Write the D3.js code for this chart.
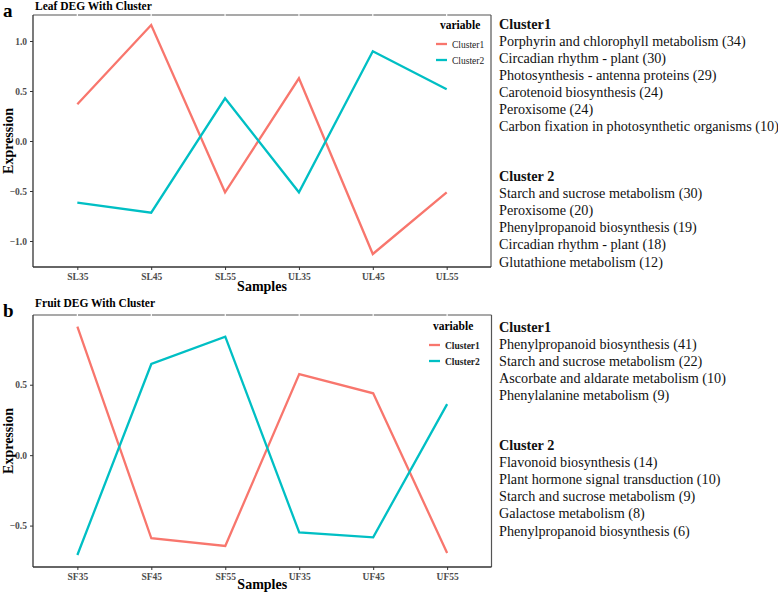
<!DOCTYPE html>
<html><head><meta charset="utf-8">
<script src="https://cdn.jsdelivr.net/npm/d3@7"></script>
<style>body{margin:0;background:#fff}svg{display:block}</style>
</head><body>
<svg id="c" width="778" height="593"></svg>
<script>
// ---- Data ----
const leafSamples = ["SL35","SL45","SL55","UL35","UL45","UL55"];
const leafCluster1 = [0.367, 1.16, -0.513, 0.627, -1.13, -0.513];
const leafCluster2 = [-0.617, -0.717, 0.427, -0.513, 0.897, 0.517];
const leafTicks = [-1.0, -0.5, 0.0, 0.5, 1.0];
const fruitSamples = ["SF35","SF45","SF55","UF35","UF45","UF55"];
const fruitCluster1 = [0.912, -0.59, -0.645, 0.576, 0.439, -0.694];
const fruitCluster2 = [-0.709, 0.647, 0.841, -0.549, -0.583, 0.362];
const fruitTicks = [-0.5, 0.0, 0.5];
const seriesNames = ["Cluster1","Cluster2"];
const leafClusterHeads = ["Cluster1","Cluster 2"];
const leafC1Paths = ["Porphyrin and chlorophyll metabolism (34)","Circadian rhythm - plant (30)","Photosynthesis - antenna proteins (29)","Carotenoid biosynthesis (24)","Peroxisome (24)","Carbon fixation in photosynthetic organisms (10)"];
const leafC2Paths = ["Starch and sucrose metabolism (30)","Peroxisome (20)","Phenylpropanoid biosynthesis (19)","Circadian rhythm - plant (18)","Glutathione metabolism (12)"];
const fruitC1Paths = ["Phenylpropanoid biosynthesis (41)","Starch and sucrose metabolism (22)","Ascorbate and aldarate metabolism (10)","Phenylalanine metabolism (9)"];
const fruitC2Paths = ["Flavonoid biosynthesis (14)","Plant hormone signal transduction (10)","Starch and sucrose metabolism (9)","Galactose metabolism (8)","Phenylpropanoid biosynthesis (6)"];

const colors = ["#F8766D","#00BFC4"];
const serif = "Liberation Serif, Times New Roman, serif";
const svg = d3.select("#c");

function panel(cfg){
  const g = svg.append("g");
  const x = d3.scalePoint().domain(cfg.samples).range([cfg.left, cfg.right]).padding(0.6);
  const y = d3.scaleLinear().domain(cfg.domain).range([cfg.bottom, cfg.top]);
  // top and right border
  g.append("line").attr("x1",cfg.left).attr("x2",cfg.right).attr("y1",cfg.top).attr("y2",cfg.top)
    .attr("stroke","#555").attr("stroke-width",1.2);
  g.append("line").attr("x1",cfg.right).attr("x2",cfg.right).attr("y1",cfg.top).attr("y2",cfg.bottom)
    .attr("stroke","#555").attr("stroke-width",1.2);
  cfg.samples.forEach(s=>{
    g.append("rect").attr("x",x(s)-0.6).attr("y",cfg.top-1).attr("width",1.2).attr("height",2).attr("fill","#fff");
  });
  // axes
  const ax = g.append("g").attr("transform",`translate(0,${cfg.bottom})`)
    .call(d3.axisBottom(x).tickSize(3).tickSizeOuter(0));
  const ay = g.append("g").attr("transform",`translate(${cfg.left},0)`)
    .call(d3.axisLeft(y).tickValues(cfg.ticks).tickFormat(d3.format(".1f")).tickSize(3).tickSizeOuter(0));
  [ax,ay].forEach(a=>{
    a.select(".domain").attr("stroke","#333").attr("stroke-width",1.3);
    a.selectAll(".tick line").attr("stroke","#333");
    a.selectAll("text").attr("font-family",serif).attr("font-weight","bold").attr("font-size",9.5).attr("fill","#4d4d4d");
  });
  ay.select(".domain").attr("d",`M0,${cfg.top}V${cfg.bottom}`);
  ax.select(".domain").attr("d",`M${cfg.left},0H${cfg.right}`);
  // lines
  const line = d3.line().x((d,i)=>x(cfg.samples[i])).y(d=>y(d));
  cfg.series.forEach((s,k)=>{
    g.append("path").datum(s).attr("d",line).attr("fill","none")
      .attr("stroke",colors[k]).attr("stroke-width",2.3).attr("stroke-linejoin","miter");
  });
  // legend
  const lg = g.append("g").attr("transform",`translate(${cfg.legX},${cfg.legY})`);
  lg.append("text").attr("x",4).attr("y",0).text("variable")
    .attr("font-family",serif).attr("font-weight","bold").attr("font-size",11.5).attr("fill","#000");
  seriesNames.forEach((n,k)=>{
    const yy = 15 + k*16;
    lg.append("line").attr("x1",0).attr("x2",11).attr("y1",yy).attr("y2",yy)
      .attr("stroke",colors[k]).attr("stroke-width",2.3);
    lg.append("text").attr("x",16).attr("y",yy+3.5).text(n)
      .attr("font-family",serif).attr("font-weight",cfg.legBold?"bold":"normal")
      .attr("font-size",9.5).attr("fill","#222");
  });
  // titles
  svg.append("text").attr("x",cfg.left+2).attr("y",cfg.titleY).text(cfg.title)
    .attr("font-family",serif).attr("font-weight","bold").attr("font-size",11.5);
  svg.append("text").attr("x",3).attr("y",cfg.letterY).text(cfg.letter)
    .attr("font-family",serif).attr("font-weight","bold").attr("font-size",19);
  svg.append("text").attr("x",(cfg.left+cfg.right)/2).attr("y",cfg.xlabY).text("Samples")
    .attr("text-anchor","middle").attr("font-family",serif).attr("font-weight","bold").attr("font-size",14);
  svg.append("text").attr("transform",`translate(13,${(cfg.top+cfg.bottom)/2}) rotate(-90)`)
    .attr("text-anchor","middle").text("Expression")
    .attr("font-family",serif).attr("font-weight","bold").attr("font-size",14);
  // right-side pathway text
  const tx = 499;
  const rows = [];
  rows.push({t:leafClusterHeads[0], b:true, y:cfg.c1Y});
  cfg.c1.forEach((t,i)=>rows.push({t, b:false, y:cfg.c1Y + 17.1*(i+1)}));
  rows.push({t:leafClusterHeads[1], b:true, y:cfg.c2Y});
  cfg.c2.forEach((t,i)=>rows.push({t, b:false, y:cfg.c2Y + 17.1*(i+1)}));
  rows.forEach(r=>{
    svg.append("text").attr("x",tx).attr("y",r.y+5).text(r.t)
      .attr("font-family",serif).attr("font-weight",r.b?"bold":"normal")
      .attr("font-size",14.2).attr("fill","#111");
  });
}

panel({samples:leafSamples, series:[leafCluster1,leafCluster2], ticks:leafTicks,
  left:33, right:491, top:15, bottom:267, domain:[-1.26,1.26],
  legX:436, legY:29, legBold:false, title:"Leaf DEG With Cluster", titleY:10, letter:"a", letterY:17,
  xlabY:291, c1:leafC1Paths, c2:leafC2Paths, c1Y:23.5, c2Y:176});
panel({samples:fruitSamples, series:[fruitCluster1,fruitCluster2], ticks:fruitTicks,
  left:33, right:491.5, top:315, bottom:567, domain:[-0.794,0.995],
  legX:429, legY:330, legBold:true, title:"Fruit DEG With Cluster", titleY:307, letter:"b", letterY:317,
  xlabY:589, c1:fruitC1Paths, c2:fruitC2Paths, c1Y:327, c2Y:445});
</script>
</body></html>
